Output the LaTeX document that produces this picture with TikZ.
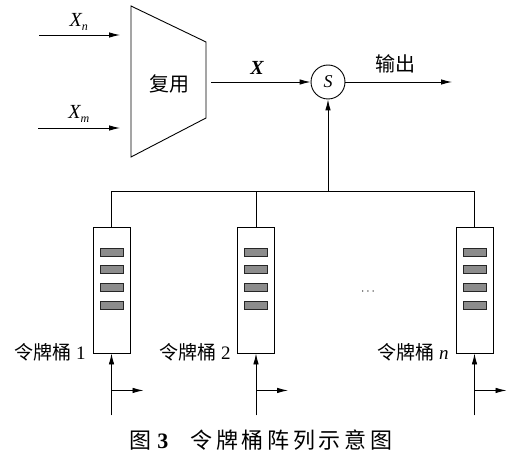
\documentclass[tikz,border=0pt]{standalone}
\usepackage{fontspec}
\setmainfont{Liberation Serif}
\newfontfamily\cjk{Noto Sans CJK SC}
\usetikzlibrary{arrows.meta,calc}
\tikzset{
  arr/.style={-{Latex[length=11pt,width=5.5pt]}},
  bucket/.style={draw, minimum width=37pt, minimum height=126pt, inner sep=0pt},
  token/.style={draw=black!85, fill=black!45, minimum width=23pt, minimum height=8pt, inner sep=0pt, line width=0.8pt},
  lbl/.style={font=\fontsize{20}{22}\selectfont, inner sep=0pt},
  blbl/.style={font=\fontsize{19}{21}\selectfont, inner sep=0pt, anchor=east},
}
\begin{document}
\begin{tikzpicture}[x=1pt,y=-1pt,line width=0.9pt]
\useasboundingbox (0,0) rectangle (531,468);
% multiplexer
\draw (131,6) -- (206,42) -- (206,118) -- (131,157) -- cycle;
\node[lbl] (mux) at (169,84) {\cjk 复用};
\coordinate (xnin) at (39,35);
\coordinate (xnend) at (120,35);
\coordinate (xmin) at (38,128);
\coordinate (xmend) at (120,128);
\draw[arr] (xnin) -- (xnend);
\draw[arr] (xmin) -- (xmend);
\node[lbl] (xnl) at (79,22) {\itshape X\textsubscript{\fontsize{12}{12}\selectfont n}};
\node[lbl] (xml) at (79,114) {\itshape X\textsubscript{\fontsize{12}{12}\selectfont m}};
% sum
\node[draw, circle, minimum size=34pt, inner sep=0pt, font=\fontsize{18}{18}\selectfont\itshape] (S) at (328,82) {S};
\coordinate (muxout) at (211,82);
\draw[arr] (muxout) -- (S);
\node[lbl] (xl) at (257,68) {\itshape\bfseries X};
\coordinate (out) at (452,82);
\draw[arr] (S) -- (out);
\node[lbl] (outl) at (395,64) {\cjk 输出};
% buckets
\node[bucket] (b1) at (111.5,290) {};
\node[bucket] (b2) at (256,290) {};
\node[bucket] (bn) at (474.5,290) {};
\foreach \b in {b1,b2,bn}{
  \foreach \k/\yy in {1/-38,2/-21,3/-3,4/15}{
    \node[token] (\b t\k) at ($(\b.center)+(0,\yy)$) {};
  }
  \coordinate (\b in) at ($(\b.south)+(0,62)$);
  \coordinate (\b br) at ($(\b.south)+(0,37)$);
  \draw[arr] (\b in) -- (\b.south);
  \draw[arr] (\b br) -- ++(32,0);
}
\coordinate (bus) at (328,191);
\draw (b1.north) |- (bn.north |- bus) -- (bn.north);
\draw (b2.north) -- (b2.north |- bus);
\draw[arr] (S.south |- bus) -- (S.south);
\node[blbl] (l1) at (86,352) {{\cjk 令牌桶}~1};
\node[blbl] (l2) at (231,352) {{\cjk 令牌桶}~2};
\node[blbl] (ln) at (449,352) {{\cjk 令牌桶}~\textit{n}};
\node[font=\fontsize{12}{12}\selectfont] (dots) at (368,292) {$\cdots$};
% caption
\node[font=\fontsize{22}{24}\selectfont] (cap) at (261,440) {{\cjk 图}~\textbf{3}\quad{\cjk 令\,牌\,桶\,阵\,列\,示\,意\,图}};
\end{tikzpicture}
\end{document}
